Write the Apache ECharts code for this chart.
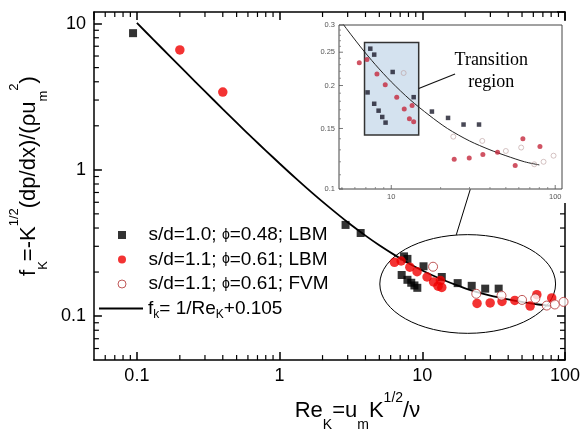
<!DOCTYPE html>
<html><head><meta charset="utf-8">
<script src="https://cdn.jsdelivr.net/npm/echarts@6/dist/echarts.min.js"></script>
<style>html,body{margin:0;padding:0;background:#fff}#c{width:583px;height:437px}</style>
</head><body><div id="c"></div>
<script>
// ---------- data ----------
const blackLBM = [[0.094,8.6],[2.9,0.42],[3.7,0.37],[7.45,0.256],[7.87,0.246],[7.17,0.191],[7.87,0.177],[8.37,0.169],[8.81,0.162],[9.23,0.156],[10.2,0.219],[13.7,0.185],[17.7,0.168],[22.2,0.161],[27.6,0.154],[34.3,0.154]];
const redLBM = [[0.2,6.6],[0.4,3.4],[6.38,0.233],[7.11,0.238],[8.18,0.216],[9.19,0.201],[10.8,0.185],[12.0,0.171],[12.9,0.160],[13.7,0.157],[13.4,0.175],[24.2,0.122],[29.9,0.123],[36.2,0.126],[44.5,0.128],[57.0,0.117],[63.5,0.140],[80.7,0.133]];
const redFVM = [[11.9,0.2175],[23.9,0.142],[35.9,0.138],[50,0.129],[62,0.132],[74.5,0.118],[84.9,0.120],[97.7,0.125]];
const fitRe = [0.1,0.13,0.17,0.22,0.3,0.4,0.5,0.65,0.8,1,1.3,1.7,2.2,3,4,5,6.5,8,10,13,17,22,30,40,50,65,80];
const fitF  = [10.1,7.8,5.99,4.65,3.44,2.6,2.1,1.64,1.355,1.105,0.874,0.693,0.56,0.438,0.355,0.305,0.259,0.23,0.205,0.182,0.164,0.150,0.138,0.130,0.125,0.120,0.1175];

// tick values
const mainXMinor = [0.06,0.07,0.08,0.09,0.2,0.3,0.4,0.5,0.6,0.7,0.8,0.9,2,3,4,5,6,7,8,9,20,30,40,50,60,70,80,90];
const mainYMinor = [0.06,0.07,0.08,0.09,0.2,0.3,0.4,0.5,0.6,0.7,0.8,0.9,2,3,4,5,6,7,8,9];
const insetXLabels = [10,100];
const insetYLabels = [0.1,0.15,0.2,0.25,0.3];
const insetXMinor = [5,6,7,8,9,20,30,40,50,60,70,80,90];
const insetYMinor = [0.11,0.12,0.13,0.14,0.16,0.17,0.18,0.19,0.21,0.22,0.23,0.24,0.26,0.27,0.28,0.29];

// annotations (data coordinates)
const ellipseBox = [5.04,0.3605,85.9,0.0762];
const connector = [17.3,0.359,21.7,0.736];
const transitionBox = [6.87,0.267,14.7,0.1435];
const pointer = [14.7,0.196,24.5,0.216];
const transitionLabel = [40.7,0.22];

const FONT = "'Liberation Sans', Arial, Helvetica, sans-serif";
const SERIF = "'Liberation Serif', 'Times New Roman', serif";

function tickSeries(xi, yi, axis, values, ref, len, sides, color, width, z) {
  return {
    type:'custom', xAxisIndex:xi, yAxisIndex:yi, z:z, silent:true, clip:false,
    data: values.map(v => axis === 'x' ? [v, ref] : [ref, v]),
    renderItem: (params, api) => {
      const cs = params.coordSys;
      const p = api.coord([api.value(0), api.value(1)]);
      const st = {stroke:color, lineWidth:width};
      const ch = [];
      if (axis === 'x') {
        if (sides.indexOf('bottom') >= 0) ch.push({type:'line', shape:{x1:p[0], y1:cs.y+cs.height, x2:p[0], y2:cs.y+cs.height-len}, style:st});
        if (sides.indexOf('top') >= 0) ch.push({type:'line', shape:{x1:p[0], y1:cs.y, x2:p[0], y2:cs.y+len}, style:st});
      } else {
        if (sides.indexOf('left') >= 0) ch.push({type:'line', shape:{x1:cs.x, y1:p[1], x2:cs.x+len, y2:p[1]}, style:st});
        if (sides.indexOf('right') >= 0) ch.push({type:'line', shape:{x1:cs.x+cs.width, y1:p[1], x2:cs.x+cs.width-len, y2:p[1]}, style:st});
      }
      return {type:'group', children:ch};
    }
  };
}

const legendText = {
  blk: '{w| }{t|s/d=1.0; }{g|ϕ}{t|=0.48; LBM}',
  red: '{w| }{t|s/d=1.1; }{g|ϕ}{t|=0.61; LBM}',
  fvm: '{w| }{t|s/d=1.1; }{g|ϕ}{t|=0.61; FVM}',
  fit: '{t|f}{s|k}{t|= 1/Re}{s|K}{t|+0.105}'
};
const legendRich = {
  w:{fontSize:19, lineHeight:24, width:17.5, fontFamily:FONT, color:'#000'},
  t:{fontSize:19, lineHeight:24, fontFamily:FONT, color:'#000'},
  g:{fontSize:14, lineHeight:24, fontFamily:FONT, color:'#000'},
  s:{fontSize:12, lineHeight:12, padding:[12,0,0,0], fontFamily:FONT, color:'#000'}
};

const axisLine = {show:true, lineStyle:{color:'#000', width:1.5}};
const axisTick = {show:true, inside:true, length:8, lineStyle:{color:'#000', width:1.5}};
const nameRich = (subPad, supPad, subSize) => ({
  b:{fontSize:22, lineHeight:22, fontFamily:FONT, color:'#000'},
  s:{fontSize:subSize, lineHeight:subSize, padding:[subPad,0,0,0], fontFamily:FONT, color:'#000'},
  p:{fontSize:subSize, lineHeight:subSize, padding:[0,0,supPad,0], fontFamily:FONT, color:'#000'}
});

const option = {
  animation:false,
  backgroundColor:'#fff',
  grid:[
    {left:82, top:12, right:14, bottom:66},
    {left:339, top:25, right:21, bottom:248}
  ],
  legend:[
    {
      data:[{name:'blk', icon:'rect'},{name:'red', icon:'circle'},{name:'fvm', icon:'circle', itemStyle:{color:'#fff', borderColor:'#b03030', borderWidth:1}}],
      orient:'vertical', left:117.5, top:223, padding:0, itemWidth:8, itemHeight:8, itemGap:0.5,
      selectedMode:false,
      formatter: n => legendText[n],
      textStyle:{fontSize:19, fontFamily:FONT, color:'#000', lineHeight:24, rich:legendRich}
    },
    {
      data:[{name:'fit', icon:'rect', itemStyle:{color:'#000'}}],
      orient:'vertical', left:99, top:296.5, padding:0, itemWidth:44, itemHeight:1.8,
      selectedMode:false,
      formatter: n => legendText[n],
      textStyle:{fontSize:19, fontFamily:FONT, color:'#000', lineHeight:24, rich:legendRich}
    }
  ],
  xAxis:[
    {type:'log', gridIndex:0, min:0.05, max:100, position:'bottom',
      axisLine:axisLine, axisTick:axisTick, splitLine:{show:false},
      axisLabel:{show:true, margin:7, fontSize:18, fontFamily:FONT, color:'#000', showMinLabel:false},
      name:'{b|Re}{s|K}{b|=u}{s|m}{b|K}{p|1/2}{b|/ν}', nameLocation:'middle', nameGap:25,
      nameTextStyle:{fontSize:22, fontFamily:FONT, color:'#000', padding:[0,0,0,56], rich:nameRich(28,25,14)}},
    {type:'log', gridIndex:0, min:0.05, max:100, position:'top',
      axisLine:axisLine, axisTick:axisTick, splitLine:{show:false}, axisLabel:{show:false}},
    {type:'log', gridIndex:1, min:4.8, max:110, show:false}
  ],
  yAxis:[
    {type:'log', gridIndex:0, min:0.05, max:12, position:'left',
      axisLine:axisLine, axisTick:axisTick, splitLine:{show:false},
      axisLabel:{show:true, margin:8, fontSize:18, fontFamily:FONT, color:'#000', showMinLabel:false, showMaxLabel:false},
      name:'{b|f}{s|K}{b|=-K}{p|1/2}{b|(dp/dx)/(ρu}{s|m}{p|2}{b|)}', nameLocation:'middle', nameGap:31,
      nameTextStyle:{fontSize:22, fontFamily:FONT, color:'#000', padding:[0,0,0,20], rich:nameRich(28,29,13)}},
    {type:'log', gridIndex:0, min:0.05, max:12, position:'right',
      axisLine:axisLine, axisTick:axisTick, splitLine:{show:false}, axisLabel:{show:false}},
    {type:'log', gridIndex:1, min:0.1, max:0.3, show:false}
  ],
  series:[
    // main minor ticks
    tickSeries(0,0,'x',mainXMinor,1,5,['bottom','top'],'#000',1.2,0),
    tickSeries(0,0,'y',mainYMinor,1,5,['left','right'],'#000',1.2,0),
    // main data
    {name:'fit', type:'line', xAxisIndex:0, yAxisIndex:0, data:fitRe.map((x,i)=>[x,fitF[i]]),
      symbol:'none', showSymbol:false, smooth:0.3, lineStyle:{color:'#000', width:1.8}, itemStyle:{color:'#000'}, z:2},
    {name:'blk', type:'scatter', xAxisIndex:0, yAxisIndex:0, data:blackLBM, symbol:'rect', symbolSize:8, itemStyle:{color:'#000'}, z:2},
    {name:'red', type:'scatter', xAxisIndex:0, yAxisIndex:0, data:redLBM, symbol:'circle', symbolSize:9.5, itemStyle:{color:'#f00000'}, z:2},
    {name:'fvm', type:'scatter', xAxisIndex:0, yAxisIndex:0, data:redFVM, symbol:'circle', symbolSize:9,
      itemStyle:{color:'#fff', borderColor:'#b03030', borderWidth:1}, z:2},
    // ellipse & connector
    {type:'custom', xAxisIndex:0, yAxisIndex:0, silent:true, clip:false, z:2, data:[ellipseBox],
      renderItem:(params, api) => {
        const a = api.coord([api.value(0), api.value(1)]);
        const b = api.coord([api.value(2), api.value(3)]);
        return {type:'ellipse', shape:{cx:(a[0]+b[0])/2, cy:(a[1]+b[1])/2, rx:Math.abs(b[0]-a[0])/2, ry:Math.abs(b[1]-a[1])/2},
          style:{fill:'none', stroke:'#000', lineWidth:1}};
      }},
    {type:'custom', xAxisIndex:0, yAxisIndex:0, silent:true, clip:false, z:2, data:[connector],
      renderItem:(params, api) => {
        const a = api.coord([api.value(0), api.value(1)]);
        const b = api.coord([api.value(2), api.value(3)]);
        return {type:'line', shape:{x1:a[0], y1:a[1], x2:b[0], y2:b[1]}, style:{stroke:'#000', lineWidth:1}};
      }},
    // inset white background + frame
    {type:'custom', xAxisIndex:2, yAxisIndex:2, silent:true, clip:false, z:1, data:[[10,0.2]],
      renderItem:(params, api) => {
        const cs = params.coordSys;
        return {type:'rect', shape:{x:cs.x-23, y:cs.y-4, width:cs.width+28.5, height:cs.height+18}, style:{fill:'#fff'}};
      }},
    {type:'custom', xAxisIndex:2, yAxisIndex:2, silent:true, clip:false, z:3, data:[[10,0.2]],
      renderItem:(params, api) => {
        const cs = params.coordSys;
        return {type:'rect', shape:{x:cs.x, y:cs.y, width:cs.width, height:cs.height}, style:{fill:'none', stroke:'#444', lineWidth:1}};
      }},
    tickSeries(2,2,'x',insetXMinor,0.2,2,['bottom'],'#777',0.8,3),
    tickSeries(2,2,'x',insetXLabels,0.2,4,['bottom'],'#555',0.8,3),
    tickSeries(2,2,'y',insetYMinor,10,2,['left'],'#777',0.8,3),
    tickSeries(2,2,'y',insetYLabels,10,4,['left'],'#555',0.8,3),
    // inset labels
    {type:'custom', xAxisIndex:2, yAxisIndex:2, silent:true, clip:false, z:3, data:insetYLabels.map(v=>[4.8,v]),
      renderItem:(params, api) => {
        const p = api.coord([api.value(0), api.value(1)]);
        return {type:'text', x:p[0]-4, y:p[1], style:{text:String(api.value(1)), fill:'#555', fontSize:7.5, fontFamily:FONT, align:'right', verticalAlign:'middle'}};
      }},
    {type:'custom', xAxisIndex:2, yAxisIndex:2, silent:true, clip:false, z:3, data:insetXLabels.map(v=>[v,0.1]),
      renderItem:(params, api) => {
        const p = api.coord([api.value(0), api.value(1)]);
        return {type:'text', x:p[0], y:p[1]+8, style:{text:String(api.value(0)), fill:'#555', fontSize:7.5, fontFamily:FONT, align:'center', verticalAlign:'middle'}};
      }},
    // transition box
    {type:'custom', xAxisIndex:2, yAxisIndex:2, silent:true, clip:false, z:3, data:[transitionBox],
      renderItem:(params, api) => {
        const a = api.coord([api.value(0), api.value(1)]);
        const b = api.coord([api.value(2), api.value(3)]);
        return {type:'rect', shape:{x:a[0], y:a[1], width:b[0]-a[0], height:b[1]-a[1]}, style:{fill:'#d4e2ef', stroke:'#333', lineWidth:1.5}};
      }},
    {type:'custom', xAxisIndex:2, yAxisIndex:2, silent:true, clip:false, z:3, data:[pointer],
      renderItem:(params, api) => {
        const a = api.coord([api.value(0), api.value(1)]);
        const b = api.coord([api.value(2), api.value(3)]);
        return {type:'line', shape:{x1:a[0], y1:a[1], x2:b[0], y2:b[1]}, style:{stroke:'#111', lineWidth:1.2}};
      }},
    {type:'custom', xAxisIndex:2, yAxisIndex:2, silent:true, clip:false, z:5, data:[transitionLabel],
      renderItem:(params, api) => {
        const p = api.coord([api.value(0), api.value(1)]);
        return {type:'text', x:p[0], y:p[1], style:{text:'Transition\nregion', fill:'#000', fontSize:18, lineHeight:22, fontFamily:SERIF, align:'center', verticalAlign:'middle'}};
      }},
    // inset data
    {name:'fitInset', type:'line', xAxisIndex:2, yAxisIndex:2, data:fitRe.map((x,i)=>[x,fitF[i]]),
      symbol:'none', showSymbol:false, smooth:0.3, clip:true, lineStyle:{color:'#222', width:1}, z:4},
    {name:'blkInset', type:'scatter', xAxisIndex:2, yAxisIndex:2, data:blackLBM, symbol:'rect', symbolSize:4.5, clip:true, itemStyle:{color:'#1a1a2a'}, z:4},
    {name:'redInset', type:'scatter', xAxisIndex:2, yAxisIndex:2, data:redLBM, symbol:'circle', symbolSize:5, clip:true, itemStyle:{color:'#c4283c'}, z:4},
    {name:'fvmInset', type:'scatter', xAxisIndex:2, yAxisIndex:2, data:redFVM, symbol:'circle', symbolSize:5, clip:true,
      itemStyle:{color:'rgba(255,255,255,0)', borderColor:'#bda0a0', borderWidth:0.8}, z:4}
  ]
};
const chart = echarts.init(document.getElementById('c'), null, {renderer:'canvas'});
chart.setOption(option);
</script></body></html>
